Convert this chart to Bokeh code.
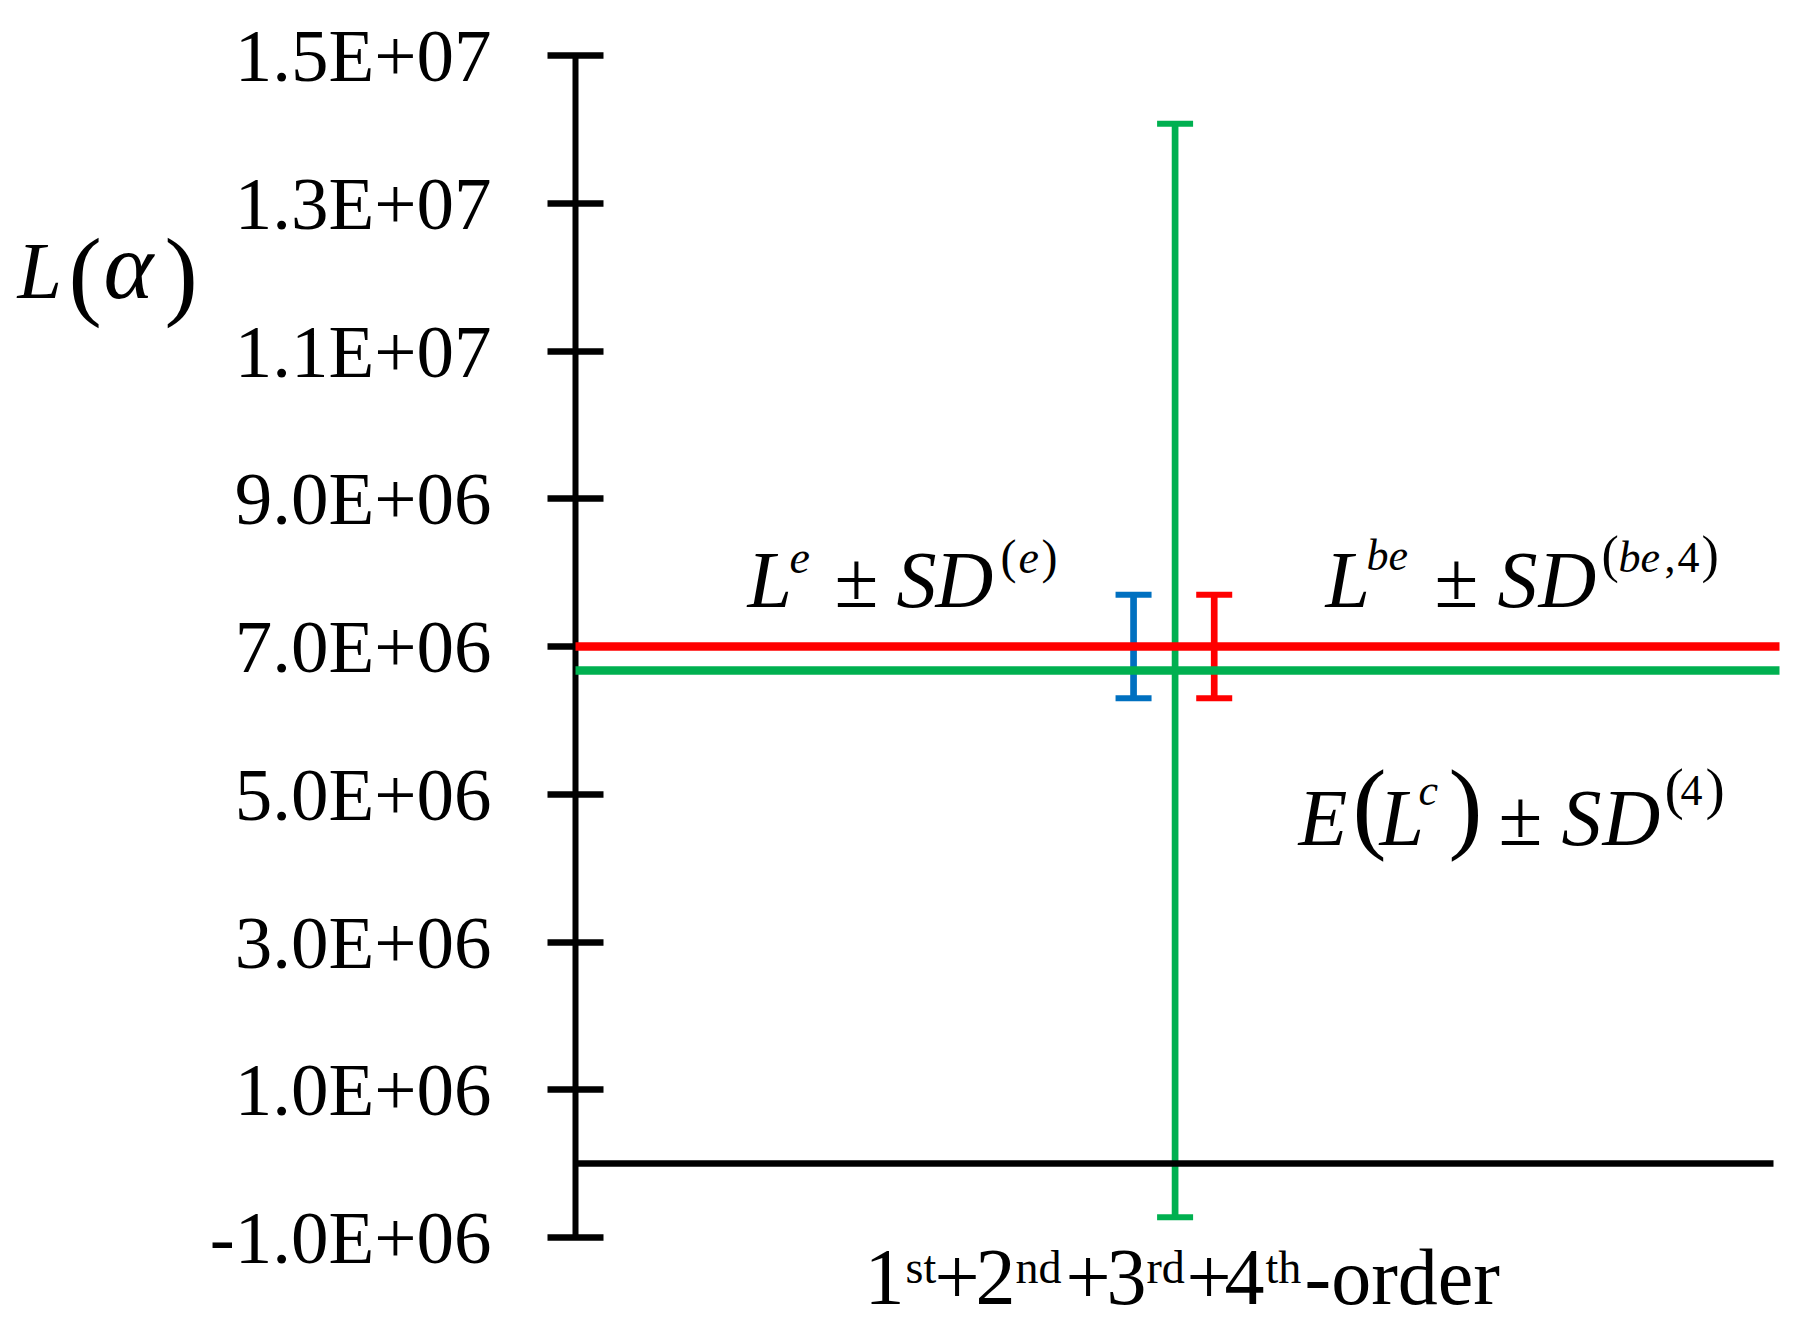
from bokeh.plotting import figure
from bokeh.models import (ColumnDataSource, Whisker, TeeHead, Label, FixedTicker,
                          Range1d, LinearAxis)
from bokeh.embed import file_html
from bokeh.resources import INLINE

# ---------------- data ----------------
categories = ["1st+2nd+3rd+4th-order"]
series_names = ["L^e ± SD^(e)", "L^be ± SD^(be,4)", "E(L^c) ± SD^(4)"]
series_means = [7.0e6, 7.0e6, 6.675e6]
series_sds = [0.70e6, 0.70e6, 7.40e6]
y_ticks = [-1000000, 1000000, 3000000, 5000000, 7000000, 9000000, 11000000, 13000000, 15000000]
y_tick_labels = ["-1.0E+06", "1.0E+06", "3.0E+06", "5.0E+06", "7.0E+06",
                 "9.0E+06", "1.1E+07", "1.3E+07", "1.5E+07"]

# ---------------- style / layout ----------------
colors = ["#0070C0", "#FF0000", "#00B050"]
dodge = [-0.0365, 0.0305, -0.002]
FONT = "Liberation Serif"

W, H = 1800, 1330
X0PX, X1PX = 575, 1779      # pixel of category-axis start / end
Y0PX, Y1PX = 1237, 55       # pixel of YMIN / YMAX
YMIN, YMAX = -1.0e6, 1.5e7
XMIN, XMAX = 0.0, 1.0
BASE_K = 0.34               # renderer baseline correction (fraction of font size)


def px2x(px):
    return XMIN + (px - X0PX) / (X1PX - X0PX) * (XMAX - XMIN)


def py2y(py):
    return YMIN + (Y0PX - py) / (Y0PX - Y1PX) * (YMAX - YMIN)


p = figure(width=W, height=H,
           x_range=Range1d(px2x(0), px2x(W)), y_range=Range1d(py2y(H), py2y(0)),
           output_backend="svg", toolbar_location=None,
           x_axis_location=None, y_axis_location=None, min_border=0)
p.outline_line_color = None
p.grid.visible = False
p.background_fill_color = "white"
p.border_fill_color = "white"

# value axis, crossing the category axis at its start
ya = LinearAxis(fixed_location=XMIN, bounds=(YMIN, YMAX))
ya.ticker = FixedTicker(ticks=y_ticks)
ya.major_label_overrides = {t: l for t, l in zip(y_ticks, y_tick_labels)}
ya.axis_line_width = 6
ya.axis_line_color = "black"
ya.major_tick_line_width = 6.5
ya.major_tick_line_color = "black"
ya.major_tick_in = 28
ya.major_tick_out = 28
ya.minor_tick_line_color = None
ya.major_label_text_font = FONT
ya.major_label_text_font_size = "75px"
ya.major_label_text_color = "black"
ya.major_label_text_baseline = "alphabetic"
ya.major_label_standoff = 56
p.add_layout(ya, "left")

# category axis, crossing the value axis at 0
xa = LinearAxis(fixed_location=0, bounds=(XMIN, 0.995))
xa.ticker = FixedTicker(ticks=[])
xa.axis_line_width = 6.5
xa.axis_line_color = "black"
xa.major_tick_line_color = None
xa.minor_tick_line_color = None
xa.major_label_text_font_size = "0px"
p.add_layout(xa, "below")

cx = [XMIN + (i + 0.5) / len(categories) * (XMAX - XMIN) for i in range(len(categories))]


def whisker(i):
    c = colors[i]
    src = ColumnDataSource(dict(x=[cx[0] + dodge[i]],
                                lower=[series_means[i] - series_sds[i]],
                                upper=[series_means[i] + series_sds[i]]))
    p.add_layout(Whisker(base="x", lower="lower", upper="upper", source=src,
                         dimension="height", line_color=c, line_width=6.7,
                         upper_head=TeeHead(size=36, line_color=c, line_width=6),
                         lower_head=TeeHead(size=36, line_color=c, line_width=6)))


whisker(0)
whisker(2)
whisker(1)

# mean lines over the whole category axis
for i in (2, 1):
    r = p.segment(x0=[XMIN], x1=[XMAX], y0=[series_means[i]], y1=[series_means[i]],
                  line_color=colors[i], line_width=8.5)
    r.level = "annotation"


def txt(t, px, py, size, italic=False):
    p.add_layout(Label(x=px2x(px), y=py2y(py - BASE_K * size), text=t, text_font=FONT,
                       text_font_size=f"{size}px",
                       text_font_style="italic" if italic else "normal",
                       text_baseline="alphabetic", text_align="left",
                       text_color="black"))


# value-axis title  L(α)
txt("L", 17, 298, 80, True)
txt("(", 68, 307, 100)
txt("α", 103, 298, 95, True)
txt(")", 164, 307, 100)

# L^e ± SD^(e)
txt("L", 747, 607, 80, True)
txt("e", 789, 573, 46, True)
txt("±", 834, 607, 80)
txt("S", 896, 607, 80, True)
txt("D", 935, 607, 80, True)
txt("(", 1000, 572, 48)
txt("e", 1018, 573, 46, True)
txt(")", 1041, 572, 48)

# L^be ± SD^(be,4)
txt("L", 1325, 607, 80, True)
txt("be", 1366, 570, 44, True)
txt("±", 1434, 607, 80)
txt("S", 1497, 607, 80, True)
txt("D", 1538, 607, 80, True)
txt("(", 1601, 572, 52)
txt("be", 1618, 572, 44, True)
txt(",", 1664, 572, 44)
txt("4", 1677, 572, 44)
txt(")", 1701, 572, 52)

# E(L^c) ± SD^(4)
txt("E", 1298, 845, 80, True)
txt("(", 1352, 840, 102)
txt("L", 1379, 845, 80, True)
txt("c", 1418, 805, 44, True)
txt(")", 1448, 840, 102)
txt("±", 1498, 845, 80)
txt("S", 1561, 845, 80, True)
txt("D", 1602, 845, 80, True)
txt("(", 1664, 808, 58)
txt("4", 1680, 805, 44)
txt(")", 1705, 808, 58)

# category label  1st+2nd+3rd+4th-order
MAIN, SUP, BASE, SUPBASE = 80, 46, 1304, 1283
cat_runs = [("1", 864, False), ("st", 905, True), ("+", 934, False), ("2", 975, False),
            ("nd", 1015, True), ("+", 1065, False), ("3", 1106, False), ("rd", 1146, True),
            ("+", 1186, False), ("4", 1224, False), ("th", 1265, True), ("-order", 1304, False)]
for s, x, sup in cat_runs:
    txt(s, x, SUPBASE if sup else BASE, SUP if sup else MAIN)

open("out.html", "w").write(file_html(p, INLINE))
